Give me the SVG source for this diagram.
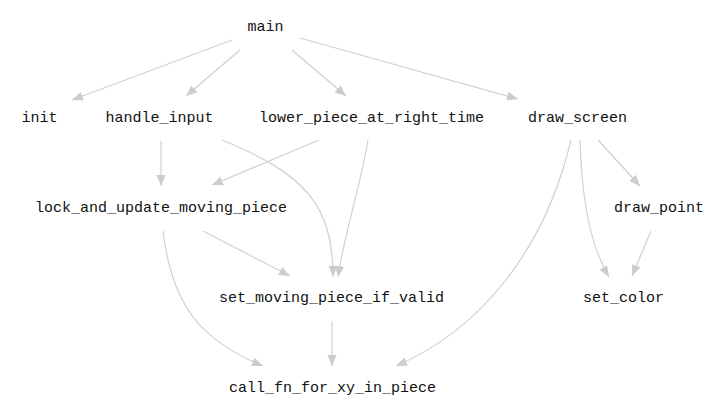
<svg xmlns="http://www.w3.org/2000/svg" width="720" height="416" viewBox="0 0 720 416">
<defs>
<style>
text{font-family:"Liberation Mono","Courier New",monospace;font-size:15px;fill:#111;text-anchor:middle}
.e{fill:none;stroke:#d0d0d0;stroke-width:1.2;marker-end:url(#ah)}
</style>
<marker id="ah" markerUnits="userSpaceOnUse" markerWidth="12" markerHeight="10" refX="11" refY="4.5" orient="auto">
<path d="M0,0 L11,4.5 L0,9 Z" fill="#cccccc"/>
</marker>
</defs>
<rect width="720" height="416" fill="#fff"/>
<g id="connectors">
<path class="e" d="M232,40 L72,100"/>
<path class="e" d="M240,50 L186,96"/>
<path class="e" d="M292,50 L346,96"/>
<path class="e" d="M300,38 L518,99"/>
<path class="e" d="M161,141 L161,186"/>
<path class="e" d="M222,140 C305,174 333,205 333,277"/>
<path class="e" d="M319,140 L212,185"/>
<path class="e" d="M368,140 C362,180 345,230 338,277"/>
<path class="e" d="M203,231 L290,276"/>
<path class="e" d="M163,231 C172,305 200,340 263,366"/>
<path class="e" d="M332,321 L332,366"/>
<path class="e" d="M571,140 C545,250 480,330 396,366"/>
<path class="e" d="M580,140 C582,200 590,245 609,277"/>
<path class="e" d="M598,140 L640,186"/>
<path class="e" d="M651,231 L632,276"/>
</g>
<g id="main"><text x="265.5" y="31">main</text></g>
<g id="init"><text x="39.5" y="122">init</text></g>
<g id="handle_input"><text x="159.5" y="122">handle_input</text></g>
<g id="lower_piece_at_right_time"><text x="371.5" y="122">lower_piece_at_right_time</text></g>
<g id="draw_screen"><text x="577.5" y="122">draw_screen</text></g>
<g id="lock_and_update_moving_piece"><text x="161" y="212">lock_and_update_moving_piece</text></g>
<g id="draw_point"><text x="659" y="212">draw_point</text></g>
<g id="set_moving_piece_if_valid"><text x="331.5" y="302">set_moving_piece_if_valid</text></g>
<g id="set_color"><text x="623.5" y="302">set_color</text></g>
<g id="call_fn_for_xy_in_piece"><text x="332.5" y="392">call_fn_for_xy_in_piece</text></g>
</svg>
